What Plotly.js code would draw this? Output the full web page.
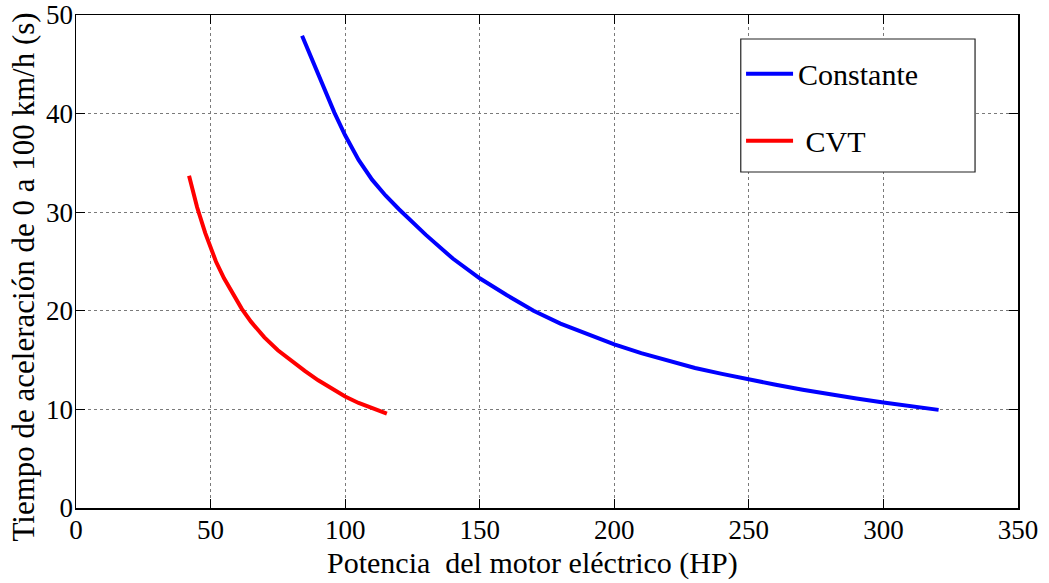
<!DOCTYPE html>
<html>
<head>
<meta charset="utf-8">
<script src="https://cdn.plot.ly/plotly-3.0.1.min.js"></script>
<style>html,body{margin:0;padding:0;background:#fff}#chart{width:1049px;height:583px}</style>
</head>
<body>
<div id="chart"></div>
<script>
const constanteX = [84, 88, 92, 96, 100, 105, 110, 115, 120, 130, 140, 150, 160, 170, 180, 190, 200, 210, 220, 230, 240, 250, 260, 270, 280, 290, 300, 310, 320.5];
const constanteY = [47.9, 45.3, 42.7, 40.1, 37.8, 35.3, 33.3, 31.7, 30.3, 27.7, 25.3, 23.3, 21.6, 20.0, 18.7, 17.6, 16.6, 15.7, 14.9, 14.2, 13.6, 13.0, 12.5, 12.0, 11.5, 11.1, 10.7, 10.3, 9.95];
const cvtX = [42, 45, 48, 50, 52, 55, 58, 61.6, 65, 70, 75, 80, 85, 90, 95, 100, 105, 110, 115.5];
const cvtY = [33.7, 30.5, 27.9, 26.4, 25.0, 23.3, 21.8, 20.2, 18.9, 17.3, 16.0, 14.9, 13.9, 12.95, 12.1, 11.3, 10.65, 10.1, 9.56];
const xTicks = [0, 50, 100, 150, 200, 250, 300, 350];
const yTicks = [0, 10, 20, 30, 40, 50];
const seriesNames = ['Constante', ' CVT'];
const xTitle = 'Potencia  del motor eléctrico (HP)';
const yTitle = 'Tiempo de aceleración de 0 a 100 km/h (s)';

const FONT = 'Liberation Serif';
const traces = [
  {x: constanteX, y: constanteY, mode: 'lines', name: seriesNames[0], legendgroup: 'a',
   line: {color: '#0000ff', width: 4}},
  {x: cvtX, y: cvtY, mode: 'lines', name: seriesNames[1], legendgroup: 'b',
   line: {color: '#ff0000', width: 4}}
];
function axisCommon() {
  return {
    showline: true, linecolor: '#000', linewidth: 1.5, mirror: 'ticks',
    ticks: 'inside', ticklen: 9, tickwidth: 1, tickcolor: '#000',
    showgrid: true, gridcolor: '#7a7a7a', gridwidth: 1, griddash: 'dot',
    zeroline: false, ticklabeloverflow: 'allow',
    tickfont: {family: FONT, size: 27, color: '#000'}
  };
}
const layout = {
  width: 1049, height: 583,
  margin: {l: 76, r: 31, t: 15, b: 75},
  paper_bgcolor: '#fff', plot_bgcolor: '#fff',
  font: {family: FONT, size: 30, color: '#000'},
  showlegend: true,
  legend: {
    x: 0.706, y: 0.9338, xanchor: 'left', yanchor: 'top',
    bgcolor: 'rgba(0,0,0,0)', borderwidth: 0,
    font: {family: FONT, size: 30, color: '#000'},
    tracegroupgap: 25, traceorder: 'grouped', itemwidth: 47
  },
  shapes: [{
    type: 'rect', xref: 'paper', yref: 'paper', layer: 'above',
    x0: 0.7057, x1: 0.9544, y0: 0.6815, y1: 0.9513,
    line: {color: '#222', width: 1.2}, fillcolor: '#fff'
  }],
  annotations: [
    {text: xTitle, xref: 'paper', yref: 'paper', x: 0.4846, y: -0.1116,
     xanchor: 'center', yanchor: 'middle', showarrow: false,
     font: {family: FONT, size: 30, color: '#000'}},
    {text: yTitle, xref: 'paper', yref: 'paper', x: -0.0552, y: 0.4675,
     xanchor: 'center', yanchor: 'middle', showarrow: false, textangle: -90,
     font: {family: FONT, size: 31, color: '#000'}}
  ],
  xaxis: Object.assign(axisCommon(), {
    range: [0, 350], tickvals: xTicks, ticktext: xTicks.map(String), ticklabelstandoff: -3
  }),
  yaxis: Object.assign(axisCommon(), {
    range: [0, 50], tickvals: yTicks, ticktext: yTicks.map(String), ticklabelstandoff: -4
  })
};
Plotly.newPlot('chart', traces, layout, {displayModeBar: false, staticPlot: true});
</script>
</body>
</html>
